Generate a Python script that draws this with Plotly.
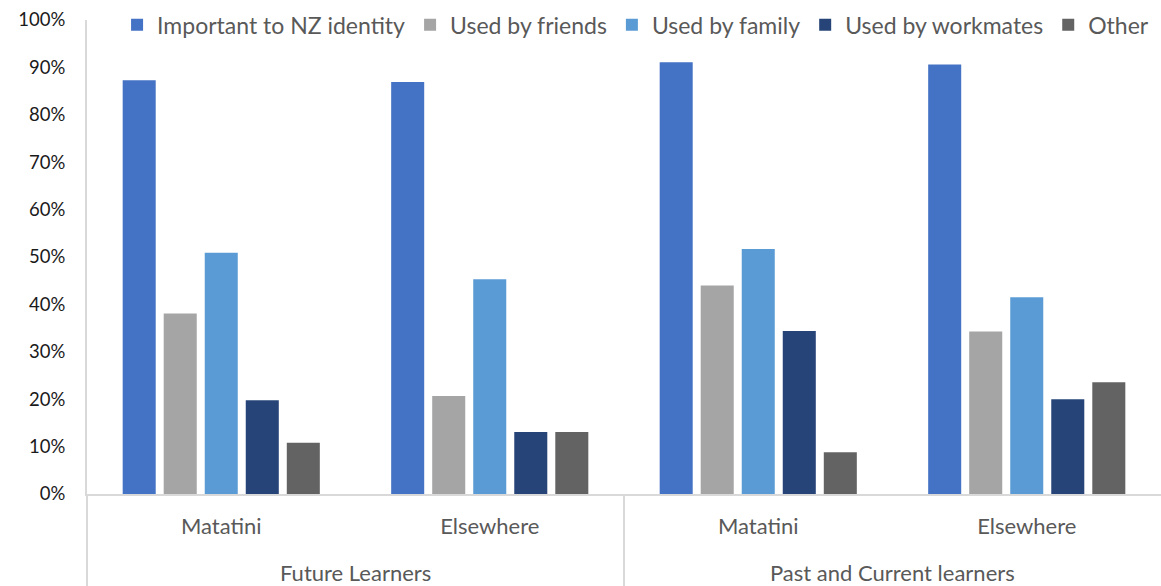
import plotly.graph_objects as go

# Learner groups (outer level) and locations (inner level)
groups = ["Future Learners", "Future Learners", "Past and Current learners", "Past and Current learners"]
locations = ["Matatini", "Elsewhere", "Matatini", "Elsewhere"]

# Share of respondents (%) for each reason
important_nz_identity = [87.3, 86.9, 91.1, 90.6]
used_by_friends = [38.1, 20.7, 44.0, 34.3]
used_by_family = [50.9, 45.3, 51.7, 41.5]
used_by_workmates = [19.8, 13.1, 34.4, 20.0]
other = [10.8, 13.1, 8.8, 23.6]

series_names = ["Important to NZ identity", "Used by friends", "Used by family",
                "Used by workmates", "Other"]
series_values = [important_nz_identity, used_by_friends, used_by_family,
                 used_by_workmates, other]
series_colors = ["#4472C4", "#A5A5A5", "#5B9BD5", "#264478", "#636363"]

FONT = "Lato"
TEXT = "#595959"
LINE = "#D9D9D9"
W, H = 1161, 586
M = dict(l=87, r=0, t=20, b=92)
plot_h = H - M["t"] - M["b"]
n = len(locations)
positions = list(range(n))

# group centres and boundaries on the category scale
group_names = []
group_first = []
for i, g in enumerate(groups):
    if not group_names or group_names[-1] != g:
        group_names.append(g)
        group_first.append(i)
group_last = group_first[1:] + [n]
group_centres = [(a + b - 1) / 2 for a, b in zip(group_first, group_last)]

fig = go.Figure()
for name, vals, col in zip(series_names, series_values, series_colors):
    fig.add_trace(go.Bar(
        x=positions, y=vals, name=name,
        marker=dict(color=col, line=dict(width=0)),
    ))

# vertical dividers between learner groups, running through the label band
shapes = []
for first in group_first:
    xp = first / n
    shapes.append(dict(type="line", xref="paper", yref="paper",
                       x0=xp, x1=xp, y0=0, y1=-M["b"] / plot_h,
                       line=dict(color=LINE, width=2), layer="below"))

# outer-level (learner group) labels under the location labels
annotations = [
    dict(text=g, x=c, xref="x", y=0, yref="paper", yshift=-78,
         xanchor="center", yanchor="middle", showarrow=False,
         font=dict(family=FONT, size=22, color=TEXT))
    for g, c in zip(group_names, group_centres)
]

fig.update_layout(
    width=W, height=H, margin=M,
    paper_bgcolor="white", plot_bgcolor="white",
    barmode="group", bargap=0.236, bargroupgap=0.195,
    font=dict(family=FONT, size=22, color=TEXT),
    legend=dict(orientation="h", x=0.028, y=0.99, xanchor="left", yanchor="middle",
                font=dict(family=FONT, size=23, color=TEXT),
                bgcolor="rgba(0,0,0,0)", itemwidth=30),
    shapes=shapes,
    annotations=annotations,
    xaxis=dict(range=[-0.5, n - 0.5], tickvals=positions, ticktext=locations,
               showgrid=False, zeroline=False, showline=True, linecolor=LINE,
               linewidth=2, ticks="", ticklabelstandoff=12,
               tickfont=dict(family=FONT, size=22, color=TEXT)),
    yaxis=dict(range=[0, 100], dtick=10, ticksuffix="%", showgrid=False,
               zeroline=False, showline=True, linecolor=LINE, linewidth=2,
               ticks="", ticklabelstandoff=16,
               tickfont=dict(family=FONT, size=18.5, color="#1A1A1A")),
)

fig.write_html("out.html")
